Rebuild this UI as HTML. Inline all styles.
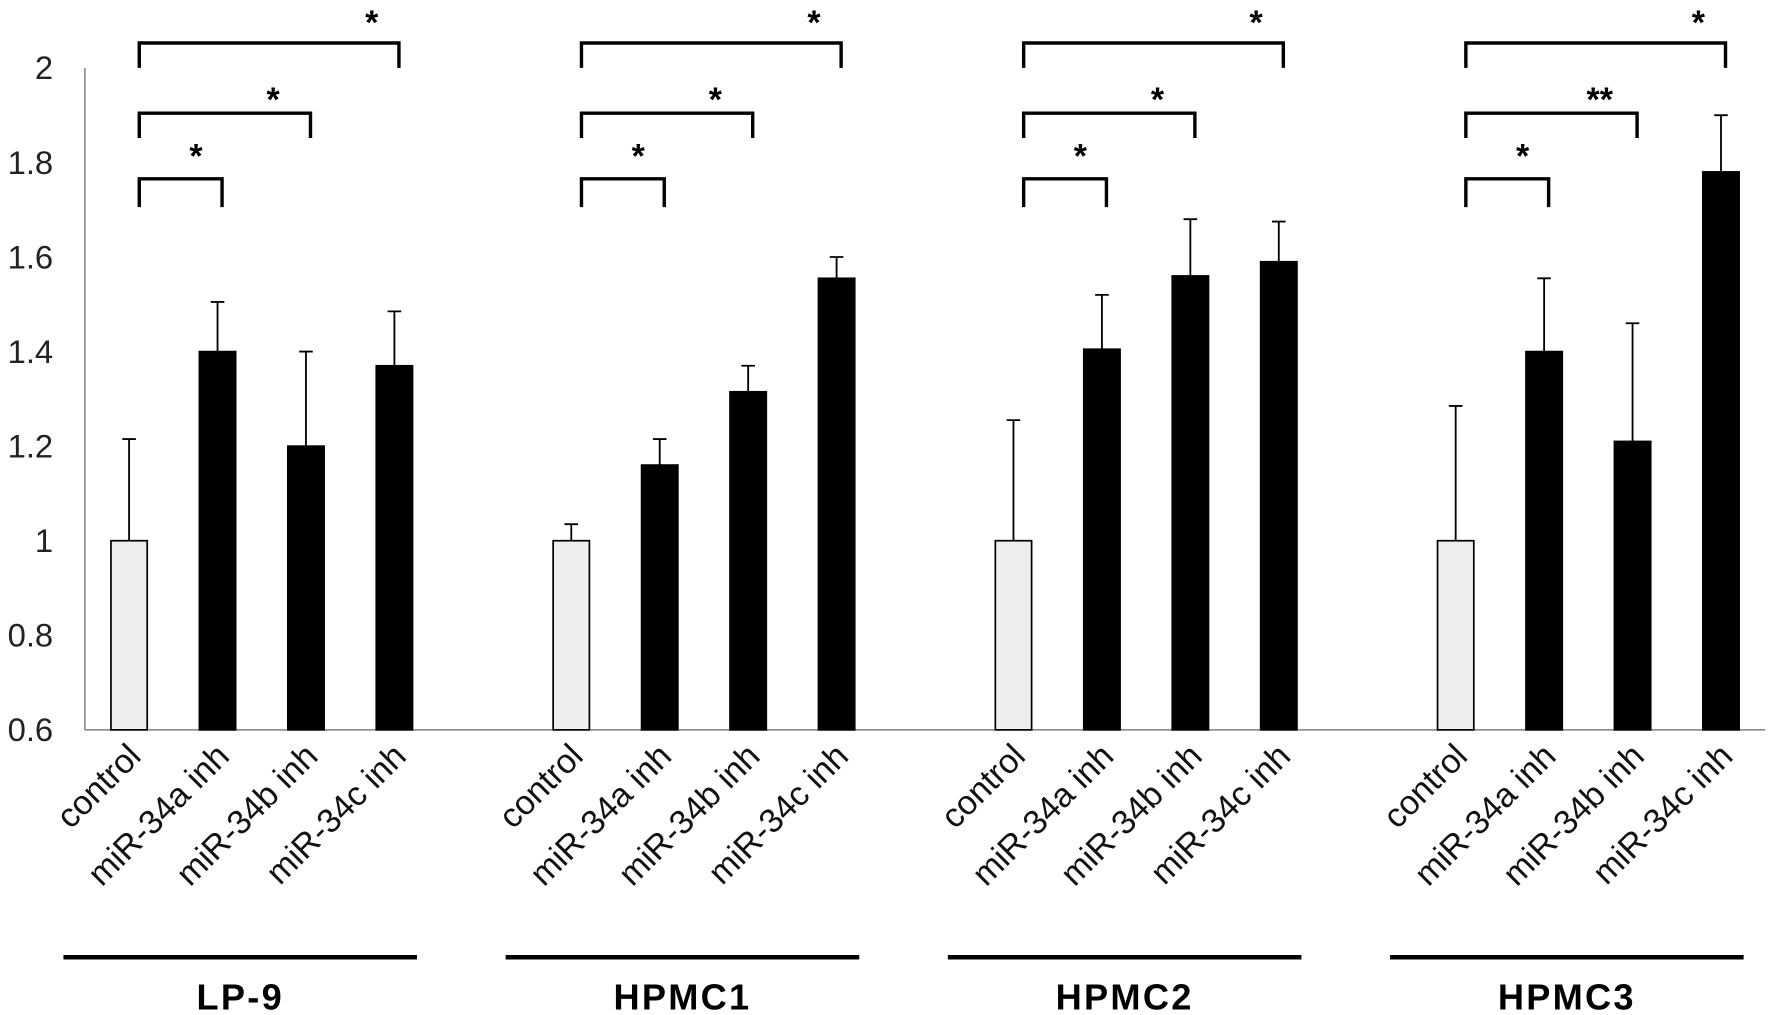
<!DOCTYPE html>
<html><head><meta charset="utf-8"><style>
html,body{margin:0;padding:0;background:#fff;}
svg{display:block;font-family:"Liberation Sans",Arial,sans-serif;}
</style></head><body>
<svg id="chart" width="1772" height="1015" viewBox="0 0 1566 897" xmlns="http://www.w3.org/2000/svg"></svg>
<script>
const groups = ["LP-9","HPMC1","HPMC2","HPMC3"];
const categories = ["control","miR-34a inh","miR-34b inh","miR-34c inh"];
const lp9Values = [1.0, 1.40, 1.20, 1.37];
const lp9Err = [1.215, 1.505, 1.40, 1.485];
const hpmc1Values = [1.0, 1.16, 1.315, 1.555];
const hpmc1Err = [1.035, 1.215, 1.37, 1.60];
const hpmc2Values = [1.0, 1.405, 1.56, 1.59];
const hpmc2Err = [1.255, 1.52, 1.68, 1.675];
const hpmc3Values = [1.0, 1.40, 1.21, 1.78];
const hpmc3Err = [1.285, 1.555, 1.46, 1.90];
const yTicks = [0.6, 0.8, 1, 1.2, 1.4, 1.6, 1.8, 2];
const yTickLabels = ["0.6","0.8","1","1.2","1.4","1.6","1.8","2"];
const sigLabels = [["*","*","*"],["*","*","*"],["*","*","*"],["*","**","*"]];

const allValues = [lp9Values, hpmc1Values, hpmc2Values, hpmc3Values];
const allErr = [lp9Err, hpmc1Err, hpmc2Err, hpmc3Err];

const svg = document.getElementById('chart');
const NS = "http://www.w3.org/2000/svg";
const X0 = 75, X1 = 1560, Y0 = 645, Y1 = 60, YMIN = 0.6, YMAX = 2;
const slot = (X1 - X0) / 19;
function yScale(v){ return Y0 - (v - YMIN) / (YMAX - YMIN) * (Y0 - Y1); }
function xCenter(g, i){ return X0 + slot * (g * 5 + i + 0.5); }
function mk(tag, attrs){ const e = document.createElementNS(NS, tag); for (const k in attrs) e.setAttribute(k, attrs[k]); svg.appendChild(e); return e; }

let ax = mk('line', {x1:X0, y1:Y1, x2:X0, y2:Y0, stroke:'#808080', 'stroke-width':1.3});


let bx = mk('line', {x1:X0, y1:Y0, x2:X1, y2:Y0, stroke:'#808080', 'stroke-width':1.3});



yTicks.forEach((t, k) => {
  const tx = mk('text', {x:47, y:yScale(t) + 10, 'text-anchor':'end', 'font-size':29, fill:'#222'});
  tx.textContent = yTickLabels[k];
  
  
});

const bw = slot * 0.41;
allValues.forEach((vals, g) => {
  vals.forEach((v, i) => {
    const cx = xCenter(g, i);
    const ctl = i === 0;
    const r = mk('rect', {x:cx - bw/2, y:yScale(v), width:bw, height:Y0 - yScale(v), fill: ctl ? '#eeeeee' : '#000', stroke:'#000', 'stroke-width':1.5});
    
    
    const e = allErr[g][i];
    const el = mk('path', {d:`M${cx},${yScale(v)}V${yScale(e)}M${cx-6},${yScale(e)}H${cx+6}`, stroke:'#000', 'stroke-width':1.6, fill:'none'});
    
    
    const lab = mk('text', {x:0, y:0, 'text-anchor':'end', 'font-size':30, fill:'#111', transform:`translate(${cx + 12},${670}) rotate(-45)`});
    lab.textContent = categories[i];
    
    
  });
  const bl = [{to:1, y:158, y2:183, sy:148, off:23}, {to:2, y:100, y2:122, sy:98, off:33}, {to:3, y:38, y2:60, sy:30, off:24}];
  bl.forEach((b, k) => {
    const xa = xCenter(g, 0) + 9, xb = xCenter(g, b.to) + 4;
    const p = mk('path', {d:`M${xa},${b.y2}V${b.y}H${xb}V${b.y2}`, stroke:'#000', 'stroke-width':3, fill:'none'});
    
    
    const s = mk('text', {x:xb - b.off, y:b.sy, 'text-anchor':'middle', 'font-size':30, 'font-weight':'bold', fill:'#000'});
    s.textContent = sigLabels[g][k];
    
    
  });
  const gx0 = xCenter(g, 0) - 58, gx1 = xCenter(g, 3) + 20;
  const gl = mk('line', {x1:gx0, y1:846, x2:gx1, y2:846, stroke:'#000', 'stroke-width':4});
  
  
  const gt = mk('text', {x:(gx0 + gx1) / 2, y:892, 'text-anchor':'middle', 'font-size':32, 'font-weight':'bold', 'letter-spacing':2, fill:'#000'});
  gt.textContent = groups[g];
  
  
});
</script>
</body></html>
